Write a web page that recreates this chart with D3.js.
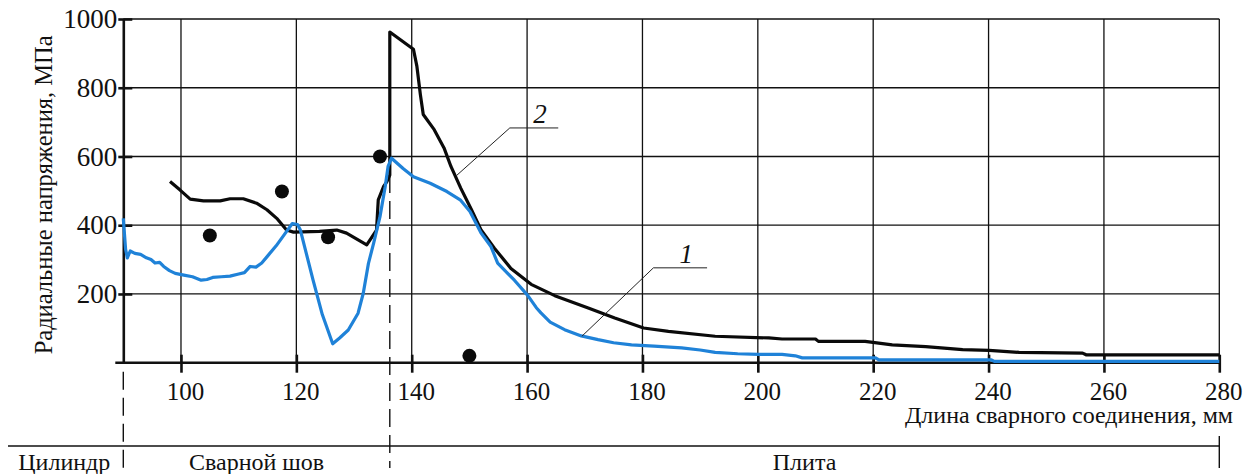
<!DOCTYPE html>
<html>
<head>
<meta charset="utf-8">
<script src="https://cdn.jsdelivr.net/npm/d3@7"></script>
<style>
  html, body { margin: 0; padding: 0; background: #fff; }
  svg { display: block; }
</style>
</head>
<body>
<svg id="chart" width="1247" height="474"></svg>
<script>
// Radial stress along the welded joint: calculation (1, 2) and measurement (dots)
const xTicks = [100, 120, 140, 160, 180, 200, 220, 240, 260, 280];
const yTicks = [200, 400, 600, 800, 1000];

// Curve 1 (blue): [length, mm ; stress, MPa]
const curve1 = [
  [90.0, 420], [90.4, 330], [90.7, 305], [91.2, 325], [92.0, 318], [93.0, 315],
  [94.0, 305], [94.8, 300], [95.5, 290], [96.3, 292], [97.0, 280], [98.0, 268],
  [99.0, 260], [100.5, 255], [102.0, 250], [103.5, 240], [104.5, 242], [105.5, 248],
  [107.0, 250], [108.5, 252], [110.0, 258], [111.0, 262], [112.0, 280], [113.0, 278],
  [114.0, 290], [115.0, 310], [116.5, 340], [118.0, 375], [119.3, 405], [120.2, 402],
  [120.7, 386], [122.9, 240], [124.5, 140], [126.3, 55], [127.5, 72], [129.0, 95],
  [130.7, 144], [131.6, 202], [132.5, 289], [133.4, 348], [134.5, 425], [135.4, 512],
  [135.9, 571], [136.5, 595], [138.5, 565], [140.3, 541], [143.2, 522], [146.1, 498],
  [148.4, 474], [150.1, 440], [152.0, 378], [153.7, 339], [154.9, 290], [156.5, 262],
  [157.8, 240], [160.1, 196], [161.6, 160], [162.4, 145], [164.0, 118], [166.5, 96],
  [169.4, 78], [172.3, 67], [175.0, 58], [178.1, 52], [182.0, 48], [186.8, 43],
  [190.0, 37], [192.6, 30], [196.5, 26], [200.1, 24], [204.2, 24], [206.5, 20],
  [207.7, 14], [220.4, 14], [221.0, 8], [240.5, 8], [241.0, 4], [280.0, 4]
];

// Curve 2 (black)
const curve2 = [
  [98.1, 527], [99.8, 503], [101.6, 476], [103.9, 471], [106.8, 471], [108.5, 477],
  [110.8, 477], [113.1, 464], [114.9, 445], [116.6, 420], [118.3, 386], [119.5, 380],
  [124.0, 382], [127.0, 386], [128.7, 377], [132.2, 343], [133.9, 386], [134.2, 474],
  [135.1, 512], [135.7, 527], [136.2, 546], [136.2, 962], [140.3, 912], [140.9, 862],
  [141.5, 780], [142.0, 722], [143.9, 678], [145.6, 625], [146.8, 571], [148.5, 508],
  [150.3, 447], [152.0, 387], [154.3, 334], [157.2, 274], [160.7, 228], [164.8, 195],
  [170.6, 159], [175.2, 130], [180.2, 101], [184.5, 91], [192.6, 77], [201.9, 72],
  [204.2, 69], [210.0, 69], [210.5, 62], [218.6, 62], [223.3, 52], [229.1, 47],
  [235.5, 38], [240.1, 36], [245.3, 30], [256.3, 28], [256.9, 23], [280.0, 23]
];

// Measured values
const measured = [[105.0, 370], [117.5, 498], [125.5, 365], [134.5, 600], [150.0, 20]];

// Zones of the joint along the length axis
const zoneBounds = [90, 136.2, 280];
const zoneLabels = ["Цилиндр", "Сварной шов", "Плита"];

// Curve callouts: label, point on curve, elbow, end of shelf (data units)
const callouts = [
  { label: "2", tip: [147.8, 545], elbow: [157.0, 683], end: 165.4 },
  { label: "1", tip: [169.5, 77], elbow: [181.9, 276], end: 191.2 }
];

const yTitle = "Радиальные напряжения, МПа";
const xTitle = "Длина сварного соединения, мм";

const FONT = "'Liberation Serif', Tinos, 'Times New Roman', 'DejaVu Serif', 'Noto Serif', serif";
const INK = "#111";

const svg = d3.select("#chart");
const x = d3.scaleLinear().domain([90, 280]).range([123.3, 1219.3]);
const y = d3.scaleLinear().domain([0, 1000]).range([362.7, 19]);

// grid
const grid = svg.append("g").attr("stroke", INK).attr("stroke-width", 1.3);
grid.selectAll("line.v").data(xTicks).join("line")
  .attr("x1", d => x(d)).attr("x2", d => x(d))
  .attr("y1", y(1000)).attr("y2", y(0));
grid.selectAll("line.h").data(yTicks).join("line")
  .attr("x1", x(90)).attr("x2", x(280))
  .attr("y1", d => y(d)).attr("y2", d => y(d));

// axes
const yAxis = d3.axisLeft(y).tickValues(yTicks).tickSize(0).tickPadding(6).tickFormat(d3.format("d"));
const gy = svg.append("g").attr("transform", `translate(${x(90)},0)`).call(yAxis)
  .attr("font-family", FONT);
gy.select(".domain").attr("stroke", INK).attr("stroke-width", 2.6);
gy.selectAll(".tick text").attr("font-size", 27).attr("fill", INK);
gy.selectAll(".tick").append("line")
  .attr("x1", -5).attr("x2", 9).attr("stroke", INK).attr("stroke-width", 2.6);

const xAxis = d3.axisBottom(x).tickValues(xTicks).tickSize(0).tickPadding(0).tickFormat(d3.format("d"));
const gx = svg.append("g").attr("transform", `translate(0,${y(0)})`).call(xAxis)
  .attr("font-family", FONT);
gx.select(".domain").remove();
gx.append("line").attr("x1", x(90) - 8).attr("x2", x(280))
  .attr("stroke", INK).attr("stroke-width", 2.6);
gx.selectAll(".tick text").attr("font-size", 25)
  .attr("fill", INK).attr("y", 37).attr("dy", null).attr("dx", 4);
gx.selectAll(".tick").append("line")
  .attr("y1", -8).attr("y2", 10).attr("stroke", INK).attr("stroke-width", 2.6);

const labels = svg.append("g").attr("font-family", FONT).attr("fill", INK);

// axis titles
labels.append("text")
  .attr("transform", `translate(52,${(y(0) + y(1000)) / 2 + 4}) rotate(-90)`)
  .attr("text-anchor", "middle").attr("font-size", 24.5).text(yTitle);
labels.append("text")
  .attr("x", 1233).attr("y", 423).attr("text-anchor", "end")
  .attr("font-size", 24).text(xTitle);

// zone markers below the axis
const zones = svg.append("g").attr("stroke", INK).attr("fill", "none");
zones.append("line").attr("x1", 8).attr("x2", x(280)).attr("y1", 446).attr("y2", 446).attr("stroke-width", 1.4);
zones.append("line").attr("x1", x(zoneBounds[0])).attr("x2", x(zoneBounds[0]))
  .attr("y1", y(0) + 9).attr("y2", 474).attr("stroke-width", 1.4).attr("stroke-dasharray", "18,8");
zones.append("line").attr("x1", x(zoneBounds[1])).attr("x2", x(zoneBounds[1]))
  .attr("y1", y(546)).attr("y2", 468).attr("stroke-width", 1.4).attr("stroke-dasharray", "18,8");
zones.append("line").attr("x1", x(zoneBounds[2])).attr("x2", x(zoneBounds[2]))
  .attr("y1", 436).attr("y2", 468).attr("stroke-width", 1.4);

labels.append("text").attr("x", x(zoneBounds[0]) - 13).attr("y", 470)
  .attr("text-anchor", "end").attr("font-size", 24).text(zoneLabels[0]);
labels.append("text").attr("x", x((zoneBounds[0] + zoneBounds[1]) / 2)).attr("y", 470)
  .attr("text-anchor", "middle").attr("font-size", 24).text(zoneLabels[1]);
labels.append("text").attr("x", x((zoneBounds[1] + zoneBounds[2]) / 2)).attr("y", 470)
  .attr("text-anchor", "middle").attr("font-size", 24).text(zoneLabels[2]);

// curves
const line = d3.line().x(d => x(d[0])).y(d => y(d[1]));
svg.append("path").datum(curve2).attr("d", line)
  .attr("fill", "none").attr("stroke", "#0a0a0a").attr("stroke-width", 3.2)
  .attr("stroke-linejoin", "round");
svg.append("path").datum(curve1).attr("d", line)
  .attr("fill", "none").attr("stroke", "#1f82d8").attr("stroke-width", 3.2)
  .attr("stroke-linejoin", "round");

// measured points
svg.append("g").selectAll("circle").data(measured).join("circle")
  .attr("cx", d => x(d[0])).attr("cy", d => y(d[1])).attr("r", 7).attr("fill", "#0a0a0a");

// callouts
const co = svg.append("g");
callouts.forEach(c => {
  co.append("polyline")
    .attr("points", [[x(c.tip[0]), y(c.tip[1])], [x(c.elbow[0]), y(c.elbow[1])], [x(c.end), y(c.elbow[1])]].join(" "))
    .attr("fill", "none").attr("stroke", "#222").attr("stroke-width", 1);
  co.append("text")
    .attr("x", (x(c.elbow[0]) + x(c.end)) / 2 + 6).attr("y", y(c.elbow[1]) - 5)
    .attr("text-anchor", "middle").attr("font-size", 27).attr("font-style", "italic")
    .attr("font-family", FONT).attr("fill", INK)
    .text(c.label);
});
</script>
</body>
</html>
